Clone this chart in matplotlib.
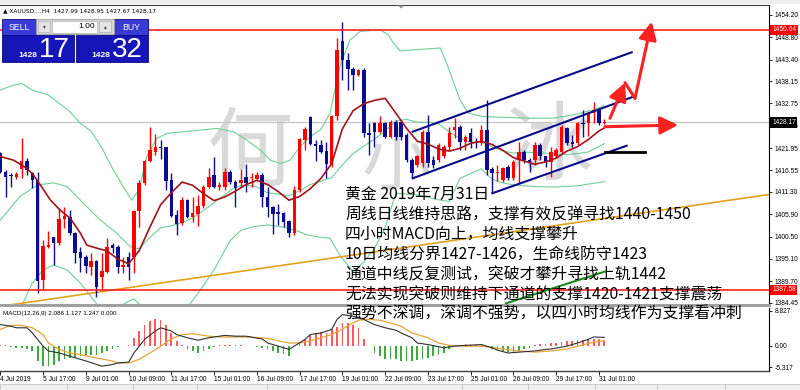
import matplotlib
matplotlib.use("Agg")
import matplotlib.pyplot as plt
from matplotlib.patches import Rectangle, Polygon
from matplotlib.transforms import blended_transform_factory
import numpy as np

plt.rcParams['font.family'] = ['Liberation Sans', 'DejaVu Sans']

# ---------------- data (XAUUSD H4, 4 Jul 09:00 -> 31 Jul 05:00) ----------------
opens = [1420.7, 1416.2, 1415.3, 1414.9, 1416.8, 1418.8, 1415.8, 1414.2, 1389.9, 1398.0,
         1400.3, 1399.0, 1404.7, 1405.3, 1401.3, 1396.8, 1395.5, 1393.0, 1394.6, 1390.6,
         1391.8, 1398.4, 1398.0, 1393.2, 1395.6, 1395.6, 1406.7, 1413.4, 1418.8, 1421.1,
         1422.2, 1422.1, 1414.2, 1405.7, 1403.7, 1409.4, 1405.3, 1406.0, 1407.9, 1412.6,
         1415.4, 1412.4, 1412.6, 1416.2, 1413.8, 1413.4, 1415.0, 1414.6, 1414.5, 1415.3,
         1410.2, 1407.7, 1406.5, 1406.1, 1404.3, 1401.3, 1411.8, 1423.9, 1429.4, 1422.9,
         1422.7, 1421.3, 1418.1, 1429.6, 1448.0, 1443.3, 1441.0, 1439.7, 1440.9, 1425.5,
         1427.9, 1425.9, 1427.9, 1424.7, 1428.3, 1428.3, 1425.1, 1419.1, 1417.8, 1418.2,
         1425.9, 1419.1, 1419.1, 1419.9, 1422.3, 1426.3, 1427.1, 1423.5, 1425.5, 1423.5,
         1423.1, 1426.2, 1416.8, 1415.8, 1414.2, 1417.4, 1414.6, 1419.1, 1421.1, 1419.1,
         1419.1, 1422.7, 1419.9, 1418.6, 1419.9, 1421.1, 1426.7, 1423.5, 1423.1, 1428.0,
         1427.9, 1430.4, 1431.2, 1427.99]
highs = [1421.1, 1416.6, 1415.8, 1416.2, 1424.3, 1419.6, 1416.2, 1416.2, 1399.6, 1401.9,
         1400.5, 1407.3, 1407.7, 1406.9, 1401.7, 1398.0, 1396.0, 1396.4, 1394.8, 1396.4,
         1400.1, 1398.9, 1398.4, 1395.6, 1396.8, 1406.9, 1414.2, 1419.1, 1427.1, 1425.4,
         1423.9, 1422.3, 1415.8, 1406.9, 1410.2, 1409.5, 1410.2, 1410.6, 1413.0, 1417.0,
         1419.7, 1413.8, 1417.0, 1416.6, 1414.2, 1416.8, 1418.1, 1415.8, 1416.2, 1415.8,
         1412.6, 1407.8, 1408.5, 1406.5, 1404.5, 1412.7, 1424.3, 1427.1, 1429.6, 1423.9,
         1423.9, 1423.5, 1429.9, 1448.5, 1452.6, 1445.1, 1441.7, 1441.0, 1441.3, 1427.9,
         1428.3, 1429.7, 1428.3, 1428.7, 1428.7, 1428.7, 1425.5, 1419.5, 1420.3, 1426.3,
         1430.0, 1419.9, 1423.1, 1422.7, 1427.1, 1429.2, 1427.5, 1425.1, 1426.7, 1424.3,
         1427.5, 1433.6, 1417.4, 1417.8, 1417.4, 1417.8, 1419.1, 1423.5, 1421.5, 1419.5,
         1423.5, 1423.1, 1420.0, 1422.3, 1421.9, 1427.5, 1427.1, 1425.1, 1428.3, 1431.2,
         1430.8, 1433.2, 1431.6, 1428.95]
lows = [1415.8, 1410.2, 1412.6, 1414.4, 1414.6, 1415.4, 1412.2, 1386.7, 1387.5, 1397.6,
        1393.6, 1398.4, 1402.5, 1400.9, 1394.0, 1392.0, 1391.6, 1391.2, 1385.9, 1387.5,
        1391.6, 1396.4, 1391.6, 1391.6, 1390.0, 1391.6, 1402.9, 1413.0, 1418.6, 1420.3,
        1419.2, 1411.8, 1405.3, 1400.9, 1403.3, 1404.9, 1404.1, 1403.1, 1407.3, 1412.2,
        1412.2, 1411.8, 1411.8, 1413.2, 1407.7, 1412.6, 1411.2, 1412.6, 1414.2, 1407.7,
        1405.3, 1401.1, 1403.3, 1402.9, 1400.3, 1400.9, 1411.4, 1421.5, 1422.7, 1418.9,
        1420.7, 1414.6, 1417.4, 1428.7, 1438.4, 1436.0, 1436.0, 1439.3, 1424.7, 1420.3,
        1422.3, 1425.5, 1424.3, 1424.3, 1423.9, 1423.9, 1418.6, 1414.6, 1417.4, 1417.4,
        1417.4, 1417.0, 1418.6, 1419.5, 1421.5, 1424.3, 1421.5, 1421.5, 1421.9, 1421.9,
        1422.7, 1415.4, 1411.0, 1414.0, 1413.8, 1414.2, 1414.2, 1413.4, 1418.2, 1416.2,
        1417.8, 1419.1, 1417.4, 1415.0, 1419.5, 1420.7, 1422.7, 1422.3, 1422.7, 1424.7,
        1424.9, 1427.9, 1427.5, 1427.67]
closes = [1416.2, 1415.0, 1415.1, 1415.7, 1418.8, 1416.6, 1414.2, 1389.6, 1398.2, 1398.4,
          1399.0, 1404.7, 1405.5, 1401.3, 1396.4, 1395.2, 1393.4, 1394.6, 1388.3, 1392.2,
          1398.0, 1397.6, 1393.2, 1393.6, 1393.2, 1406.7, 1413.4, 1418.9, 1421.5, 1422.3,
          1422.0, 1414.0, 1405.5, 1403.5, 1409.4, 1405.3, 1406.1, 1407.9, 1412.6, 1415.0,
          1412.4, 1413.0, 1416.2, 1413.8, 1412.3, 1414.2, 1413.4, 1415.0, 1415.4, 1410.2,
          1407.7, 1406.0, 1406.0, 1404.1, 1401.3, 1411.8, 1424.1, 1426.5, 1422.9, 1422.4,
          1421.1, 1418.1, 1429.7, 1445.7, 1443.3, 1441.0, 1439.7, 1440.9, 1425.5, 1425.1,
          1425.9, 1427.9, 1424.7, 1428.3, 1424.7, 1424.7, 1419.1, 1415.8, 1419.9, 1425.9,
          1418.2, 1417.8, 1422.7, 1422.3, 1425.5, 1427.1, 1423.5, 1424.7, 1423.5, 1423.1,
          1426.2, 1416.6, 1415.8, 1416.0, 1417.0, 1414.6, 1418.6, 1421.1, 1419.1, 1418.2,
          1422.7, 1419.9, 1418.6, 1421.1, 1421.5, 1427.1, 1423.1, 1422.9, 1427.9, 1427.8,
          1430.5, 1431.2, 1427.9, 1428.17]

# moving average (maroon): bar index / price
ma_bar = [0, 2.5, 5, 6.2, 7.5, 9.4, 11.2, 13.1, 15, 16.2, 18, 20, 22, 24, 26, 28, 30, 32, 34,
          36, 38, 40, 42, 44, 46, 48, 50, 52, 54, 56, 58, 60, 62, 64, 66, 68, 70, 72, 74, 76,
          78, 80, 82, 84, 86, 88, 90, 92, 94, 96, 98, 100, 102, 104, 106, 108, 110, 112, 113]
ma_val = [1419.9, 1419.0, 1417.0, 1415.4, 1413.0, 1409.3, 1406.9, 1404.9, 1401.3, 1398.4,
          1397.7, 1397.0, 1395.0, 1393.9, 1397.1, 1402.8, 1408.2, 1411.1, 1413.7, 1412.9,
          1410.9, 1409.2, 1410.1, 1411.5, 1413.1, 1414.1, 1413.1, 1411.4, 1409.3, 1410.2,
          1412.1, 1414.6, 1418.2, 1426.6, 1431.0, 1432.7, 1433.5, 1434.0, 1430.4, 1426.7,
          1423.6, 1422.9, 1421.7, 1421.2, 1421.9, 1423.1, 1423.6, 1422.8, 1421.4, 1419.6,
          1418.8, 1418.0, 1418.6, 1419.5, 1421.2, 1422.3, 1424.0, 1426.1, 1426.8]

# Bollinger bands (green)
bb_up_bar = [0, 2, 4, 6, 9, 11, 13, 15, 17, 19, 21, 23, 24.6, 26, 27.4, 29.3, 31.2, 34.3, 37.4,
             40.5, 43.6, 46.1, 48.6, 50.5, 52.4, 54.2, 56.1, 58, 60, 61.7, 63.5, 65.4, 67.3,
             71, 72.5, 73.5, 74.8, 78, 82.3, 83.5, 86, 87.5, 90, 94, 98.5, 103.5, 107.2,
             110.9, 113]
bb_up_val = [1436.0, 1437.0, 1437.6, 1436.0, 1434.8, 1432.8, 1430.8, 1427.9, 1426.0, 1422.0,
             1417.0, 1412.6, 1409.3, 1412.0, 1419.9, 1424.3, 1425.5, 1425.9, 1426.3, 1426.7,
             1425.9, 1423.9, 1421.5, 1419.0, 1418.2, 1419.0, 1422.3, 1424.7, 1426.5, 1430.5,
             1441.7, 1448.1, 1450.2, 1450.6, 1449.5, 1447.5, 1445.5, 1445.8, 1446.2, 1442.5,
             1433.6, 1430.5, 1429.6, 1429.4, 1429.2, 1429.2, 1430.0, 1431.2, 1432.2]
bb_mid_bar = [0, 3.7, 6.9, 10, 12.5, 15.6, 18.7, 21.8, 23.7, 24.9, 26, 28, 30, 32, 34, 36, 38,
              40, 42, 44, 46, 48, 50, 52, 54, 56, 58, 60, 62, 64, 66, 68, 70, 72, 74, 76, 78,
              80, 82, 84, 86, 88, 90, 92, 94, 96, 98, 100, 102, 104, 106, 108, 110, 112, 113]
bb_mid_val = [1404.5, 1410.2, 1413.0, 1413.5, 1412.6, 1408.5, 1404.5, 1401.3, 1398.8, 1397.6,
              1397.6, 1400.3, 1402.6, 1403.1, 1403.8, 1405.0, 1406.8, 1408.7, 1410.6, 1412.6,
              1413.0, 1412.5, 1411.1, 1410.8, 1410.4, 1411.6, 1413.1, 1413.9, 1414.8, 1417.9,
              1420.6, 1422.4, 1424.1, 1426.1, 1428.5, 1428.9, 1428.2, 1428.2, 1427.8, 1425.8,
              1424.3, 1423.4, 1423.3, 1422.3, 1421.3, 1420.7, 1421.0, 1420.8, 1420.7, 1420.4,
              1420.4, 1420.6, 1421.0, 1422.3, 1423.0]
bb_lo_bar = [0, 3, 6, 8, 10, 12.5, 15, 17, 18.2, 20, 22, 23.7, 25, 26.5, 28, 31, 34, 37.4, 40,
             43, 45, 47.4, 50, 52.4, 55, 57.4, 60, 61.7, 63.5, 66, 68, 70, 72, 74, 78, 82, 84,
             86, 88, 90, 92, 94, 96, 100, 104, 108, 112, 113]
bb_lo_val = [1373.0, 1381.0, 1389.2, 1392.4, 1393.6, 1392.4, 1389.2, 1385.9, 1383.9, 1383.0,
             1383.3, 1384.6, 1385.4, 1383.5, 1379.0, 1378.5, 1381.5, 1387.5, 1392.4, 1399.5,
             1402.0, 1402.9, 1403.3, 1402.9, 1402.1, 1400.9, 1400.3, 1400.1, 1396.0, 1392.0,
             1394.3, 1397.6, 1402.7, 1411.0, 1410.6, 1409.4, 1409.0, 1414.6, 1415.8, 1416.9,
             1414.4, 1413.5, 1413.0, 1412.6, 1412.5, 1412.8, 1413.6, 1413.8]

# MACD(12,26,9) panel values
macd_hist = [0.3, 0.2, -0.25, -0.5, -0.5, -0.8, -1.3, -3.8, -5.1, -5.1,
             -4.7, -3.8, -3.3, -3.0, -2.8, -2.6, -2.4, -2.2, -2.2, -1.8,
             -1.3, -0.9, -0.3, -0.1, 0.3, 2.0, 3.7, 5.3, 6.2, 6.6,
             6.4, 5.1, 3.2, 1.2, 0.1, -0.9, -1.3, -1.8, -1.3, -0.8,
             -0.3, 0.2, 0.3, 0.3, 0.2, 0.1, 0.05, -0.05, -0.2, -0.5,
             -0.9, -1.3, -1.8, -2.0, -2.6, 0.05, 0.8, 1.6, 2.8, 3.2,
             3.4, 3.2, 4.1, 4.7, 5.6, 5.7, 5.2, 4.5, 1.6, -0.1,
             -1.8, -2.6, -3.4, -3.4, -3.4, -3.8, -3.8, -3.8, -3.6, -3.4,
             -3.0, -2.6, -2.2, -1.8, -0.8, 0.2, 0.3, 0.4, 0.3, 0.3,
             0.1, -0.2, -0.9, -1.1, -1.3, -1.6, -1.6, -1.3, -0.9, -0.5,
             0.1, 0.5, 0.5, 0.6, 0.6, 0.9, 1.2, 1.2, 1.4, 1.4,
             1.6, 1.7, 1.7, 1.4]
macd_bar = [0, 2, 3, 5, 6, 8, 9, 11, 12, 14, 16, 19, 21, 22, 24, 25, 27, 29, 30, 32, 33, 35,
            37, 39, 40, 42, 44, 46, 49, 50, 52, 54, 55, 57, 58, 60, 62, 63, 64, 66, 68, 70,
            72, 74, 75, 77, 78, 80, 83, 85, 87, 90, 92, 93, 95, 97, 100, 102, 103, 106, 108,
            110, 111, 113]
macd_val = [5.3, 4.9, 4.5, 4.5, 3.2, -0.1, -1.3, -1.8, -2.2, -3.0, -3.8, -5.1, -4.7, -4.3,
            -4.1, -1.8, 1.6, 3.7, 4.5, 3.7, 2.8, 2.0, 1.4, 2.0, 2.2, 2.6, 2.4, 2.4, 1.7, 0.7,
            -0.1, -0.9, -0.1, 1.6, 2.8, 3.2, 4.1, 6.6, 7.8, 7.4, 6.6, 5.3, 4.5, 3.9, 3.2, 2.0,
            0.7, 0.3, -0.5, -0.1, 0.1, 0.3, -0.5, -1.1, -1.8, -1.6, -1.3, -0.9, -0.8, -0.1,
            0.7, 1.6, 2.2, 2.1]
sig_bar = [0, 2, 4, 6, 8, 9, 11, 13, 15, 17, 19, 21, 22, 24, 26, 28, 30, 32, 34, 36, 37, 39,
           41, 44, 46, 49, 51, 52, 54, 56, 58, 60, 62, 64, 66, 67, 69, 71, 73, 75, 77, 80, 82,
           84, 87, 90, 94, 97, 100, 103, 106, 108, 111, 113]
sig_val = [4.1, 5.1, 5.1, 4.5, 2.8, 0.7, -0.9, -1.8, -2.2, -2.8, -3.3, -3.8, -4.3, -4.3,
           -3.4, -1.8, -0.1, 1.7, 2.8, 3.0, 2.8, 2.4, 2.2, 2.2, 2.2, 2.0, 1.6, 1.2, 0.7, 0.7,
           1.2, 2.0, 2.8, 4.2, 5.7, 6.4, 6.6, 6.4, 5.7, 4.9, 3.2, 2.0, 0.7, 0.1, -0.1, -0.1,
           -0.8, -1.3, -1.6, -1.3, -0.8, -0.1, 0.9, 1.3]

# price levels / drawn objects (bar index, price)
res_level = 1450.64
sup_level = 1387.58
last_price = 1428.17
orange_trend = ([-0.05, 143.8], [1383.56, 1410.69])
chan_upper = ([77.15, 118.12], [1425.91, 1445.16])
chan_mid = ([77.15, 118.12], [1414.61, 1434.25])
chan_lower = ([92.04, 117.18], [1410.98, 1422.51])
black_line = ([113.1, 120.6], [1421.06, 1421.06])
green_line = ([94.6, 113.1], [1384.3, 1392.0])
arrow_flat = ([113.1, 126.8], [1427.12, 1427.53])
arrow_zig = ([114.05, 116.86, 118.73, 121.86], [1429.16, 1437.79, 1434.0, 1452.58])

price_ticks = [1454.20, 1448.80, 1443.40, 1438.15, 1432.75, 1427.35, 1421.95, 1416.55,
               1411.30, 1405.90, 1400.50, 1395.10, 1389.70, 1384.45]
macd_ticks = [8.827, 0.0, -5.317]
macd_tick_labels = ['8.827', '0.00', '-5.317']
time_tick_bars = [0, 8, 16, 24, 32, 40, 48, 56, 64, 72, 80, 88, 96, 104, 112]
time_tick_labels = ['4 Jul 2019', '5 Jul 17:00', '9 Jul 01:00', '10 Jul 09:00', '11 Jul 17:00',
                    '15 Jul 01:00', '16 Jul 09:00', '17 Jul 17:00', '19 Jul 01:00',
                    '22 Jul 09:00', '23 Jul 17:00', '25 Jul 01:00', '26 Jul 09:00',
                    '29 Jul 17:00', '31 Jul 01:00']

header = '\u25b2 XAUUSD....H4  1427.99 1428.95 1427.67 1428.17'
macd_header = 'MACD(12,26,9) 2.086 1.127 1.247 0.000'
note_lines = ['黄金 2019年7月31日',
              '周线日线维持思路，支撑有效反弹寻找1440-1450',
              '四小时MACD向上，均线支撑攀升',
              '10日均线分界1427-1426，生命线防守1423',
              '通道中线反复测试，突破才攀升寻找上轨1442',
              '无法实现突破则维持下通道的支撑1420-1421支撑震荡',
              '强势不深调，深调不强势，以四小时均线作为支撑看冲刺']

# ---------------- styling ----------------
BULL = '#ff0000'
BEAR = '#0c0c8e'
BAND = '#6fcf97'
MA_C = '#a0141a'
RED = '#ff2020'
NAVY = '#0a0a8a'
W, H = 800, 390

fig = plt.figure(figsize=(W / 100, H / 100), dpi=100)
fig.patch.set_facecolor('white')

def fyb(py):
    return 1 - py / H

ax = fig.add_axes([0, fyb(305), 769 / W, 300 / H])
ax2 = fig.add_axes([0, fyb(371), 769 / W, 63.5 / H])
XMIN, XMAX = -0.05, 143.8
ax.set_xlim(XMIN, XMAX)
ax.set_ylim(1383.9, 1456.62)
ax2.set_xlim(XMIN, XMAX)
ax2.set_ylim(-6.317, 9.58)

# watermark
for ch, xf, yf, fs in [('何', 0.325, 0.50, 62), ('小', 0.515, 0.47, 50), ('冰', 0.715, 0.52, 62)]:
    ax.text(xf, yf, ch, transform=ax.transAxes, fontsize=fs, color='#d9d9d9',
            family=['Noto Sans CJK SC'], ha='center', va='center', zorder=0)

idx = np.arange(len(closes))
o = np.array(opens); c = np.array(closes); hi = np.array(highs); lo = np.array(lows)
cols = np.where(c >= o, BULL, BEAR)

# lines behind candles
ax.axhline(last_price, color='#c8c8c8', lw=1.0, zorder=1)
ax.plot(bb_up_bar, bb_up_val, color=BAND, lw=0.8, zorder=2)
ax.plot(bb_mid_bar, bb_mid_val, color=BAND, lw=0.8, zorder=2)
ax.plot(bb_lo_bar, bb_lo_val, color=BAND, lw=0.8, zorder=2)
ax.plot(orange_trend[0], orange_trend[1], color='#e3a21a', lw=1.2, zorder=2)

ax.vlines(idx, lo, hi, colors=cols, lw=1.0, zorder=3)
body_b = np.minimum(o, c)
body_h = np.maximum(np.abs(c - o), 0.22)
ax.bar(idx, body_h, bottom=body_b, width=0.66, color=cols, linewidth=0, zorder=4)

ax.plot(ma_bar, ma_val, color=MA_C, lw=1.2, zorder=5)

ax.axhline(res_level, color=RED, lw=1.2, zorder=5)
ax.axhline(sup_level, color=RED, lw=1.2, zorder=5)
for ln in (chan_upper, chan_mid, chan_lower):
    ax.plot(ln[0], ln[1], color=NAVY, lw=1.5, zorder=6)
ax.plot(black_line[0], black_line[1], color='black', lw=2.0, zorder=6)
ax.plot(green_line[0], green_line[1], color='#1d8a1d', lw=1.5, zorder=6)

akw = dict(arrowstyle='-|>,head_length=0.9,head_width=0.45', color=RED, lw=2.2,
           shrinkA=0, shrinkB=0, mutation_scale=12)
ax.annotate('', xy=(arrow_flat[0][1], arrow_flat[1][1]),
            xytext=(arrow_flat[0][0], arrow_flat[1][0]), arrowprops=akw, zorder=7)
ax.annotate('', xy=(arrow_zig[0][1], arrow_zig[1][1]),
            xytext=(arrow_zig[0][0], arrow_zig[1][0]), arrowprops=akw, zorder=7)
ax.plot(arrow_zig[0][1:3], arrow_zig[1][1:3], color=RED, lw=2.2, zorder=7,
        solid_capstyle='round')
ax.annotate('', xy=(arrow_zig[0][3], arrow_zig[1][3]),
            xytext=(arrow_zig[0][2], arrow_zig[1][2]), arrowprops=akw, zorder=7)

# axes styling
for a in (ax, ax2):
    a.set_facecolor('white')
    a.spines['left'].set_visible(False)
    a.spines['right'].set_color('black')
    a.spines['right'].set_linewidth(0.8)
    a.tick_params(axis='x', which='both', bottom=False, labelbottom=False)
ax.spines['top'].set_color('#404040'); ax.spines['top'].set_linewidth(0.8)
ax.spines['bottom'].set_color('#a0a0a0'); ax.spines['bottom'].set_linewidth(2.2)
ax2.spines['top'].set_visible(False)
ax2.spines['bottom'].set_color('#404040'); ax2.spines['bottom'].set_linewidth(1.0)

lab_font = dict(family=['Liberation Sans'], size=4.8)
ax.yaxis.tick_right()
ax.set_yticks(price_ticks)
ax.set_yticklabels(['%.2f' % v for v in price_ticks], fontdict=lab_font)
ax.tick_params(axis='y', direction='out', length=2.5, width=0.6, pad=1.5)
ax2.yaxis.tick_right()
ax2.set_yticks(macd_ticks)
ax2.set_yticklabels(macd_tick_labels, fontdict=lab_font)
ax2.tick_params(axis='y', direction='out', length=2.5, width=0.6, pad=1.5)

ax2.tick_params(axis='x', bottom=True, labelbottom=True, length=3, width=0.6, pad=0.6,
                direction='out')
ax2.set_xticks(time_tick_bars)
ax2.set_xticklabels(time_tick_labels, fontdict=lab_font, ha='left')

# price labels at right
tr = blended_transform_factory(ax.transAxes, ax.transData)
for val, fc in [(res_level, '#ff0000'), (sup_level, '#ff0000'), (last_price, 'black')]:
    ax.text(1.004, val, '%.2f' % val, transform=tr, fontsize=4.8, family=['Liberation Sans'],
            color='white', va='center', ha='left', clip_on=False, zorder=10,
            bbox=dict(boxstyle='square,pad=0.25', fc=fc, ec='none'))

# MACD panel
hist_cols = np.where(np.array(macd_hist) >= 0, '#ff5a5a', '#3fa83f')
ax2.bar(idx, macd_hist, width=0.32, color=hist_cols, linewidth=0, zorder=2)
ax2.plot(sig_bar, sig_val, color='#e8a43a', lw=0.9, zorder=3)
ax2.plot(macd_bar, macd_val, color='#303030', lw=0.8, zorder=4)
ax2.text(0.004, 0.9, macd_header, transform=ax2.transAxes, fontsize=4.5,
         family=['Liberation Sans'], va='center', ha='left', zorder=5)

# ---------------- overlay (pixel coordinates) ----------------
ov = fig.add_axes([0, 0, 1, 1], zorder=20)
ov.set_xlim(0, W); ov.set_ylim(H, 0); ov.axis('off'); ov.patch.set_alpha(0)

# window chrome
ov.add_patch(Rectangle((0, 0), W, 4, fc='#eeeeee', ec='none'))
ov.add_patch(Rectangle((0, 383.5), W, 6.5, fc='#f0f0f0', ec='#c8c8c8', lw=0.6))
for xd in (67, 133, 197, 267, 462, 528, 595, 657, 725):
    ov.plot([xd, xd], [384, 390], color='#c0c0c0', lw=0.6)
ov.add_patch(Polygon([[398, 5.5], [404, 5.5], [401, 8.5]], closed=True, fc='#909090', ec='none'))

ov.text(3, 10.5, header, fontsize=4.2, family=['DejaVu Sans'], va='center', ha='left')

# one-click trading panel
BLUE_D = '#1616b8'
BLUE_L = '#3a3ad6'
ov.add_patch(Rectangle((2, 19), 34, 16, fc=BLUE_L, ec='#0a0a80', lw=0.6))
ov.add_patch(Rectangle((114, 19), 34, 16, fc=BLUE_L, ec='#0a0a80', lw=0.6))
ov.add_patch(Rectangle((36, 19), 78, 15, fc='#d8d8d8', ec='#a0a0a0', lw=0.6))
ov.add_patch(Rectangle((52, 20.5), 45, 12, fc='white', ec='#b0b0b0', lw=0.5))
ov.add_patch(Rectangle((38, 21), 12, 11, fc='#e4e4e4', ec='#b0b0b0', lw=0.5))
ov.add_patch(Rectangle((99, 21), 12, 11, fc='#e4e4e4', ec='#b0b0b0', lw=0.5))
ov.text(44, 26.5, '\u25be', fontsize=4, ha='center', va='center', color='#404040',
        family=['DejaVu Sans'])
ov.text(105, 26.5, '\u25b4', fontsize=4, ha='center', va='center', color='#404040',
        family=['DejaVu Sans'])
ov.text(95, 26.5, '1.00', fontsize=6, ha='right', va='center', color='black')
ov.text(19, 27, 'SELL', fontsize=6.3, ha='center', va='center', color='white')
ov.text(131, 27, 'BUY', fontsize=6.3, ha='center', va='center', color='white')
ov.add_patch(Rectangle((2, 35), 72, 27, fc=BLUE_D, ec='#0a0a80', lw=0.6))
ov.add_patch(Rectangle((76, 35), 72, 27, fc=BLUE_D, ec='#0a0a80', lw=0.6))
ov.text(37, 57, '1428', fontsize=6, ha='right', va='baseline', color='white',
        fontweight='bold')
ov.text(39, 57, '17', fontsize=20, ha='left', va='baseline', color='white')
ov.text(110, 57, '1428', fontsize=6, ha='right', va='baseline', color='white',
        fontweight='bold')
ov.text(112, 57, '32', fontsize=20, ha='left', va='baseline', color='white')

# commentary text
for k, line in enumerate(note_lines):
    ov.text(345, 194.5 + 20.0 * k, line, fontsize=11.4,
            family=['Noto Sans CJK SC', 'DejaVu Sans'], ha='left', va='center',
            color='black')

fig.savefig('out.png', dpi=100, facecolor='white')
